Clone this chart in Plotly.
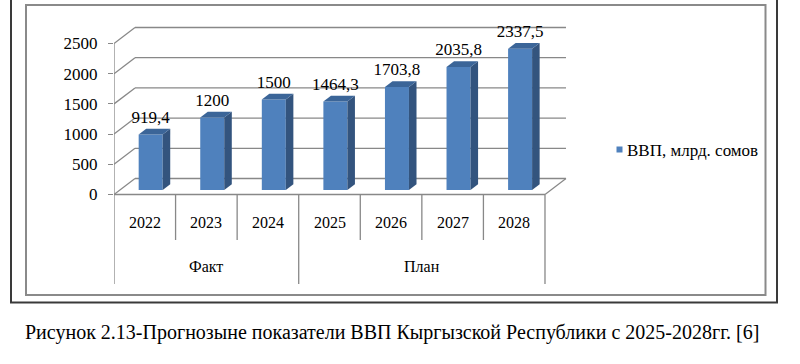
import plotly.graph_objects as go

# ---------------- data ----------------
years = ["2022", "2023", "2024", "2025", "2026", "2027", "2028"]
groups = ["Факт", "Факт", "Факт", "План", "План", "План", "План"]
gdp = [919.4, 1200, 1500, 1464.3, 1703.8, 2035.8, 2337.5]
y_ticks = [0, 500, 1000, 1500, 2000, 2500]
series_name = "ВВП, млрд. сомов"
caption = "Рисунок 2.13-Прогнозыне показатели ВВП Кыргызской Республики с 2025-2028гг. [6]"

# ---------------- geometry / style ----------------
W, H = 800, 364
X0_PX = 114.0            # left edge of category axis (px)
CAT_PX = 61.57           # px per category
Y0_PX = 194.5            # px of value 0 on front plane
PX_PER_UNIT = 30.2 / 500 # vertical px per value unit
DX = 21 / CAT_PX         # depth offset (x units) of back wall
DY = 16 / PX_PER_UNIT    # depth offset (y units) of back wall
F0 = 0.28                # depth fraction of bar front face
FB = 0.36                # bar depth fraction
BAR_W = 24 / CAT_PX
FONT = "Liberation Serif"
GRID = "#888888"
FRONT = "#4F81BD"
SIDE = "#33547E"
TOP = "#3B6598"

n = len(years)
xmin = -0.5
xmax_axis = n - 0.5
def px_to_v(py):
    return (Y0_PX - py) / PX_PER_UNIT

def ppx(px):  # paper x
    return px / W
def ppy(py):  # paper y
    return 1 - py / H

fig = go.Figure()
shapes = []
annotations = []

def line(x0, y0, x1, y1, color=GRID, width=1.3, layer="below"):
    shapes.append(dict(type="line", xref="x", yref="y", x0=x0, y0=y0, x1=x1, y1=y1,
                       line=dict(color=color, width=width), layer=layer))

# back wall gridlines and left wall diagonals
for t in y_ticks:
    line(xmin + DX, t + DY, xmax_axis + DX, t + DY)
    line(xmin, t, xmin + DX, t + DY)
# floor front edge and right diagonal
line(xmin, 0, xmax_axis, 0)
line(xmax_axis, 0, xmax_axis + DX, DY)
# value axis line
line(xmin, 0, xmin, y_ticks[-1])

# category dividers
v_short = px_to_v(240)
v_long = px_to_v(284)
for k in range(n + 1):
    xb = k - 0.5
    is_group_edge = (k == 0 or k == n or groups[k] != groups[k - 1])
    line(xb, 0, xb, v_long if is_group_edge else v_short)

# year labels
v_year = px_to_v(222)
for i, yr in enumerate(years):
    annotations.append(dict(x=i, y=v_year, xref="x", yref="y", text=yr, showarrow=False,
                            font=dict(family=FONT, size=16, color="#000000")))
# group labels
v_grp = px_to_v(266)
start = 0
for k in range(1, n + 1):
    if k == n or groups[k] != groups[start]:
        annotations.append(dict(x=(start + k - 1) / 2, y=v_grp, xref="x", yref="y",
                                text=groups[start], showarrow=False,
                                font=dict(family=FONT, size=16, color="#000000")))
        start = k

# bars (front faces)
xs = [i + F0 * DX for i in range(n)]
base = F0 * DY
fig.add_trace(go.Bar(x=xs, y=gdp, base=base, width=BAR_W,
                     marker=dict(color=FRONT, line=dict(width=0)),
                     name=series_name, showlegend=False, hoverinfo="skip"))

# side and top faces
bdx, bdy = FB * DX, FB * DY
for x, v in zip(xs, gdp):
    xl, xr = x - BAR_W / 2, x + BAR_W / 2
    top = base + v
    fig.add_trace(go.Scatter(
        x=[xr, xr + bdx, xr + bdx, xr, xr], y=[base, base + bdy, top + bdy, top, base],
        mode="lines", fill="toself", fillcolor=SIDE, line=dict(width=0, color=SIDE),
        showlegend=False, hoverinfo="skip"))
    fig.add_trace(go.Scatter(
        x=[xl, xr, xr + bdx, xl + bdx, xl], y=[top, top, top + bdy, top + bdy, top],
        mode="lines", fill="toself", fillcolor=TOP, line=dict(width=0, color=TOP),
        showlegend=False, hoverinfo="skip"))

# data labels
label_off = 16 / PX_PER_UNIT
fig.add_trace(go.Scatter(
    x=xs, y=[base + v + label_off for v in gdp], mode="text",
    text=[f"{v:g}".replace(".", ",") for v in gdp], textposition="middle center",
    textfont=dict(family=FONT, size=17, color="#000000"),
    showlegend=False, hoverinfo="skip"))

# frames
shapes.append(dict(type="rect", xref="paper", yref="paper",
                   x0=ppx(26), x1=ppx(765.5), y0=ppy(295), y1=ppy(5),
                   line=dict(color="#8A8A8A", width=2), layer="below"))
shapes.append(dict(type="rect", xref="paper", yref="paper",
                   x0=ppx(11), x1=ppx(777), y0=ppy(302.5), y1=ppy(-5),
                   line=dict(color="#3A3A3A", width=2), layer="below"))

# legend
shapes.append(dict(type="rect", xref="paper", yref="paper",
                   x0=ppx(616.5), x1=ppx(622.5), y0=ppy(152.5), y1=ppy(146.5),
                   fillcolor=FRONT, line=dict(width=0), layer="above"))
annotations.append(dict(x=ppx(625), y=ppy(150), xref="paper", yref="paper",
                        xanchor="left", yanchor="middle", text=series_name, showarrow=False,
                        font=dict(family=FONT, size=17, color="#000000")))

# caption
annotations.append(dict(x=ppx(392), y=ppy(332), xref="paper", yref="paper",
                        xanchor="center", yanchor="middle", text=caption, showarrow=False,
                        font=dict(family=FONT, size=20, color="#000000")))

fig.update_layout(
    width=W, height=H, margin=dict(l=0, r=0, t=0, b=0),
    paper_bgcolor="white", plot_bgcolor="white",
    shapes=shapes, annotations=annotations, showlegend=False,
    xaxis=dict(domain=[X0_PX / W, 1], range=[xmin, xmin + (W - X0_PX) / CAT_PX],
               visible=False, fixedrange=True),
    yaxis=dict(domain=[0, 1], range=[px_to_v(H), px_to_v(0)],
               tickvals=y_ticks, ticktext=[str(t) for t in y_ticks],
               ticks="outside", ticklen=5, tickcolor=GRID, tickwidth=1.3,
               ticklabelstandoff=7,
               tickfont=dict(family=FONT, size=17, color="#000000"),
               showgrid=False, zeroline=False, showline=False, fixedrange=True),
)

fig.write_html("out.html")
